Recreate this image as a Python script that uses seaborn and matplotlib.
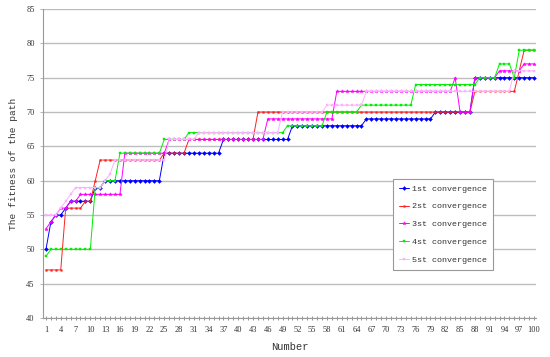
import matplotlib
matplotlib.use("Agg")
import matplotlib.pyplot as plt
from matplotlib.ticker import MultipleLocator, FixedLocator
import seaborn as sns

# iteration number 1..100
number = list(range(1, 101))

conv1 = [50, 54, 55, 55, 56, 57, 57, 57, 57, 57, 59, 59, 60, 60, 60, 60, 60, 60, 60, 60,
         60, 60, 60, 60, 64, 64, 64, 64, 64, 64, 64, 64, 64, 64, 64, 64, 66, 66, 66, 66,
         66, 66, 66, 66, 66, 66, 66, 66, 66, 66, 68, 68, 68, 68, 68, 68, 68, 68, 68, 68,
         68, 68, 68, 68, 68, 69, 69, 69, 69, 69, 69, 69, 69, 69, 69, 69, 69, 69, 69, 70,
         70, 70, 70, 70, 70, 70, 70, 75, 75, 75, 75, 75, 75, 75, 75, 75, 75, 75, 75, 75]

conv2 = [47, 47, 47, 47, 56, 56, 56, 56, 57, 57, 60, 63, 63, 63, 63, 63, 63, 63, 63, 63,
         63, 63, 63, 63, 64, 64, 64, 64, 64, 66, 66, 66, 66, 66, 66, 66, 66, 66, 66, 66,
         66, 66, 66, 70, 70, 70, 70, 70, 70, 70, 70, 70, 70, 70, 70, 70, 70, 70, 70, 70,
         70, 70, 70, 70, 70, 70, 70, 70, 70, 70, 70, 70, 70, 70, 70, 70, 70, 70, 70, 70,
         70, 70, 70, 70, 70, 70, 70, 73, 73, 73, 73, 73, 73, 73, 73, 73, 76, 79, 79, 79]

conv3 = [53, 54, 55, 56, 56, 57, 57, 58, 58, 58, 58, 58, 58, 58, 58, 58, 64, 64, 64, 64,
         64, 64, 64, 64, 64, 66, 66, 66, 66, 66, 66, 66, 66, 66, 66, 66, 66, 66, 66, 66,
         66, 66, 66, 66, 66, 69, 69, 69, 69, 69, 69, 69, 69, 69, 69, 69, 69, 69, 69, 73,
         73, 73, 73, 73, 73, 73, 73, 73, 73, 73, 73, 73, 73, 73, 73, 73, 73, 73, 73, 73,
         73, 73, 73, 75, 70, 70, 70, 75, 75, 75, 75, 75, 76, 76, 76, 76, 76, 77, 77, 77]

conv4 = [49, 50, 50, 50, 50, 50, 50, 50, 50, 50, 59, 59, 60, 60, 60, 64, 64, 64, 64, 64,
         64, 64, 64, 64, 66, 66, 66, 66, 66, 67, 67, 67, 67, 67, 67, 67, 67, 67, 67, 67,
         67, 67, 67, 67, 67, 67, 67, 67, 67, 68, 68, 68, 68, 68, 68, 68, 68, 70, 70, 70,
         70, 70, 70, 70, 71, 71, 71, 71, 71, 71, 71, 71, 71, 71, 71, 74, 74, 74, 74, 74,
         74, 74, 74, 74, 74, 74, 74, 74, 75, 75, 75, 75, 77, 77, 77, 75, 79, 79, 79, 79]

conv5 = [55, 55, 55, 56, 57, 58, 59, 59, 59, 59, 59, 59, 60, 61, 63, 63, 63, 63, 63, 63,
         63, 63, 63, 63, 63, 66, 66, 66, 66, 66, 66, 67, 67, 67, 67, 67, 67, 67, 67, 67,
         67, 67, 67, 67, 67, 67, 67, 67, 70, 70, 70, 70, 70, 70, 70, 70, 70, 71, 71, 71,
         71, 71, 71, 71, 71, 73, 73, 73, 73, 73, 73, 73, 73, 73, 73, 73, 73, 73, 73, 73,
         73, 73, 73, 73, 73, 73, 73, 73, 73, 73, 73, 73, 73, 73, 73, 76, 76, 76, 76, 76]

labels = ['1st convergence', '2st convergence', '3st convergence',
          '4st convergence', '5st convergence']
colors = ['#0000ff', '#ff2020', '#ff00ff', '#00ee00', '#ffb0ff']
markers = ['D', 's', '*', 's', 's']
msizes = [2.0, 1.2, 2.6, 1.6, 1.5]

sns.set_style('white')
plt.rcParams['font.family'] = ['Liberation Mono', 'DejaVu Sans Mono']

fig = plt.figure(figsize=(5.5, 3.57), dpi=100)
ax = fig.add_axes([43 / 550, 1 - 318 / 357, 493 / 550, 309 / 357])

series = [conv1, conv2, conv3, conv4, conv5]
for vals, lab, col, mk, ms in zip(series, labels, colors, markers, msizes):
    sns.lineplot(x=number, y=vals, ax=ax, color=col, marker=mk, markersize=ms,
                 markeredgewidth=0.3, markeredgecolor=col, linewidth=0.7,
                 label=lab)

ax.set_xlim(0.4, 100.4)
ax.set_ylim(40, 85)
ax.yaxis.set_major_locator(MultipleLocator(5))
ax.xaxis.set_major_locator(FixedLocator(list(range(1, 101, 3))))
ax.xaxis.set_minor_locator(MultipleLocator(1))
ax.grid(axis='y', color='#bdbdbd', linewidth=1.0)
ax.grid(axis='x', visible=False)
ax.set_axisbelow(True)

for side in ['top', 'right']:
    ax.spines[side].set_visible(False)
for side in ['left', 'bottom']:
    ax.spines[side].set_color('#999999')
    ax.spines[side].set_linewidth(0.8)

ax.tick_params(axis='x', which='both', direction='inout', length=3, width=0.5,
               color='#666666', labelsize=5, labelcolor='#333333', pad=4,
               bottom=True)
ax.tick_params(axis='y', direction='out', length=2, width=0.5, color='#999999',
               labelsize=5, labelcolor='#333333', pad=4, left=True)
for t in ax.get_xticklabels() + ax.get_yticklabels():
    t.set_family('Liberation Serif')
    t.set_fontsize(6)

ax.set_xlabel('Number', fontsize=7.5, color='#333333', labelpad=6)
ax.set_ylabel('The fitness of the path', fontsize=6.8, color='#333333', labelpad=6)

leg = ax.legend(loc='center', bbox_to_anchor=(0.811, 0.303), fontsize=6,
                frameon=True, fancybox=False, edgecolor='#999999',
                labelspacing=1.2, borderpad=0.7, handlelength=1.2,
                handletextpad=0.35, framealpha=1)
leg.get_frame().set_linewidth(0.8)
for t in leg.get_texts():
    t.set_color('#333333')

fig.savefig('out.png', dpi=100)
